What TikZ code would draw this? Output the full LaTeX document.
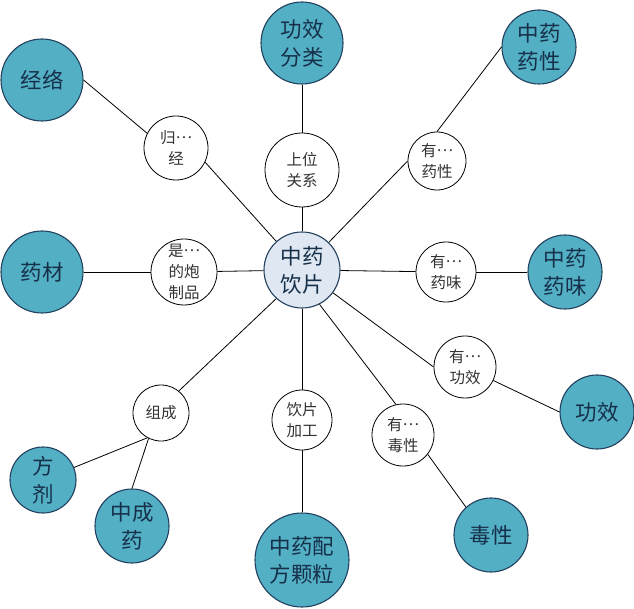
\documentclass[tikz,border=0pt]{standalone}
\usepackage{fontspec}
\newfontfamily\cjk{Noto Sans CJK SC}
\definecolor{tealfill}{HTML}{52AFC4}
\definecolor{rimblue}{HTML}{23405E}
\definecolor{centrefill}{HTML}{DFE7F2}
\definecolor{navytext}{HTML}{17304A}
\definecolor{labeltext}{HTML}{333333}
\newcommand{\middots}{\raisebox{0.3em}{…}}
\begin{document}
\begin{tikzpicture}[x=1pt,y=-1pt,
  bignode/.style={circle,draw=rimblue,line width=1.1pt,fill=tealfill,inner sep=0pt,align=center,
    font=\cjk\fontsize{21.5}{28}\selectfont,text=navytext},
  hubnode/.style={circle,draw=rimblue,line width=1.1pt,fill=centrefill,inner sep=0pt,align=center,
    font=\cjk\fontsize{21.5}{28}\selectfont,text=navytext},
  relnode/.style={circle,draw=black,line width=0.8pt,fill=white,inner sep=0pt,align=center,
    font=\cjk\fontsize{15.5}{21}\selectfont,text=labeltext},
  link/.style={draw=black,line width=0.8pt}]
\useasboundingbox (0,0) rectangle (634,609);
% hub
\node[hubnode,minimum size=76pt] (c) at (302,270) {中药\\饮片};
% outer concepts
\node[bignode,minimum size=82pt] (gf) at (302,43) {功效\\分类};
\node[bignode,minimum size=74pt] (zyx) at (539,47) {中药\\药性};
\node[bignode,minimum size=82pt] (jl) at (42,80) {经络};
\node[bignode,minimum size=82pt] (yc) at (42,272) {药材};
\node[bignode,minimum size=74pt] (zyw) at (565,272) {中药\\药味};
\node[bignode,minimum size=74pt] (gx) at (597,412) {功效};
\node[bignode,minimum size=74pt] (dx) at (491,535) {毒性};
\node[bignode,minimum size=94pt] (pf) at (302,560) {中药配\\方颗粒};
\node[bignode,minimum size=74pt] (zcy) at (132,526) {中成\\药};
\node[bignode,minimum size=66pt] (fj) at (43,480) {方\\剂};
% relation labels
\node[relnode,minimum size=64pt] (gj) at (176,148) {归\middots\\经};
\node[relnode,minimum size=74pt] (sw) at (302,170) {上位\\关系};
\node[relnode,minimum size=58pt] (yx) at (437,161) {有\middots\\药性};
\node[relnode,minimum size=66pt] (pz) at (184,272) {是\middots\\的炮\\制品};
\node[relnode,minimum size=60pt] (yw) at (446,272) {有\middots\\药味};
\node[relnode,minimum size=62pt] (ygx) at (465,367) {有\middots\\功效};
\node[relnode,minimum size=56pt] (zc) at (161,413) {组成};
\node[relnode,minimum size=60pt] (jg) at (302,420) {饮片\\加工};
\node[relnode,minimum size=62pt] (ds) at (403,435) {有\middots\\毒性};
% connectors
\draw[link] (gf) -- (sw);
\draw[link] (sw) -- (c);
\draw[link] (jl.east) -- (gj.153);
\draw[link] (gj.-26) -- (c);
\draw[link] (c) -- (yx.180);
\draw[link] (yx.north) -- (zyx.west);
\draw[link] (yc) -- (pz);
\draw[link] (pz) -- (c);
\draw[link] (c) -- (yw);
\draw[link] (yw) -- (zyw);
\draw[link] (c) -- (ygx.west);
\draw[link] (ygx) -- (gx.west);
\draw[link] (c.-63) -- (ds.103);
\draw[link] (ds.-38) -- (dx.132);
\draw[link] (c) -- (jg);
\draw[link] (jg) -- (pf);
\draw[link] (c.-132) -- (zc.51);
\draw[link] (zc.-119) -- (fj.22);
\draw[link] (zc.-116) -- (zcy.90);
\end{tikzpicture}
\end{document}
